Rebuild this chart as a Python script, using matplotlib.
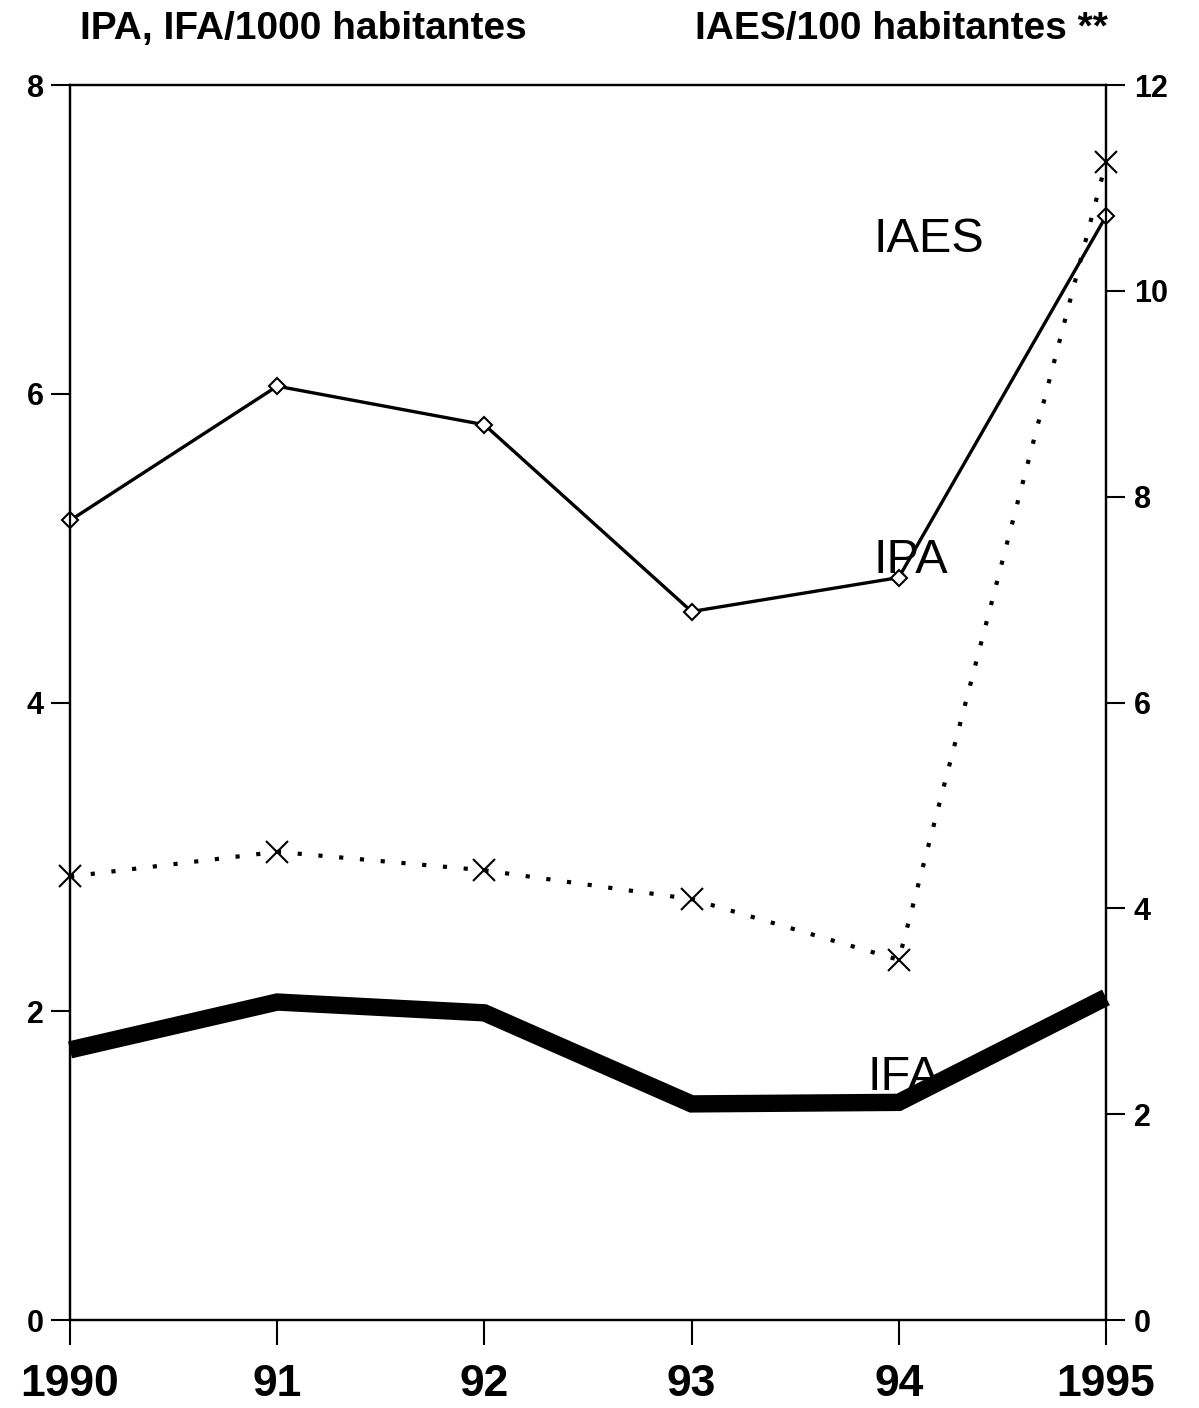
import numpy as np
import matplotlib.pyplot as plt

plt.rcParams['font.family'] = ['Liberation Sans', 'DejaVu Sans']

years = [1990, 1991, 1992, 1993, 1994, 1995]
year_labels = ['1990', '91', '92', '93', '94', '1995']

# IPA, IFA por 1000 habitantes (eje izquierdo)
ipa = [5.18, 6.05, 5.80, 4.59, 4.81, 7.15]
ifa = [1.75, 2.06, 1.99, 1.40, 1.41, 2.09]
# IAES por 100 habitantes (eje derecho)
iaes = [4.31, 4.55, 4.37, 4.09, 3.50, 11.25]

fig = plt.figure(figsize=(11.99, 14.08), dpi=100)
ax = fig.add_axes([0.0584, 0.0625, 0.864, 0.877])
ax2 = ax.twinx()

ax.plot(years, ipa, color='black', lw=2.4, marker='D', ms=8,
        mfc='white', mec='black', mew=1.5, clip_on=False, zorder=3)
ax.plot(years, ifa, color='black', lw=12.5, solid_joinstyle='miter',
        solid_capstyle='butt', clip_on=False, zorder=3)
ax2.plot(years, iaes, color='black', lw=3, linestyle=(0, (1, 4)),
         marker='x', ms=16, mew=1.5, clip_on=False, zorder=3)

ax.set_xlim(1990, 1995)
ax.set_ylim(0, 8)
ax2.set_ylim(0, 12)

ax.set_xticks(years)
ax.set_xticklabels(year_labels, fontsize=32, fontweight='bold')
ax.set_yticks([0, 2, 4, 6, 8])
ax.set_yticklabels(['0', '2', '4', '6', '8'], fontsize=22, fontweight='bold')
ax2.set_yticks([0, 2, 4, 6, 8, 10, 12])
ax2.set_yticklabels(['0', '2', '4', '6', '8', '10', '12'], fontsize=22, fontweight='bold')

ax.tick_params(axis='x', direction='out', length=18, width=1.5, pad=14)
ax.tick_params(axis='y', direction='out', length=14, width=1.5, pad=5)
ax2.tick_params(axis='y', direction='out', length=14, width=1.5, pad=6)

for a in (ax, ax2):
    for s in a.spines.values():
        s.set_linewidth(1.6)

ax.text(1993.88, 6.92, 'IAES', fontsize=35)
ax.text(1993.88, 4.84, 'IPA', fontsize=35)
ax.text(1993.85, 1.49, 'IFA', fontsize=35)

fig.text(0.067, 0.972, 'IPA, IFA/1000 habitantes', fontsize=28, fontweight='bold')
fig.text(0.58, 0.972, 'IAES/100 habitantes **', fontsize=28, fontweight='bold')

fig.savefig('out.png', dpi=100)
